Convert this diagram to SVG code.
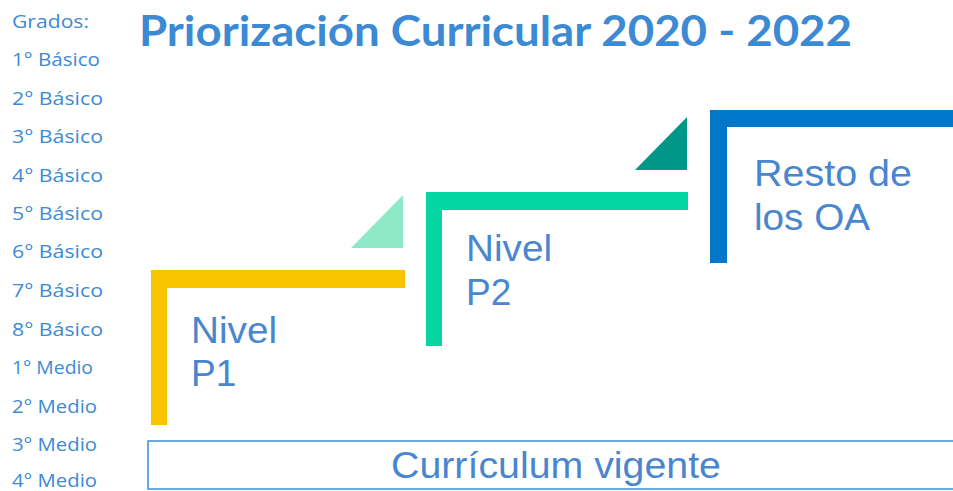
<svg xmlns="http://www.w3.org/2000/svg" width="953" height="491" viewBox="0 0 953 491">
<style>
.g{font-family:"Open Sans",Lato,sans-serif;font-size:17.5px;fill:#3d8ad5}
.lbl{font-family:"Liberation Sans",Arial,sans-serif;font-size:37px;fill:#4a86d0}
.title{font-family:Lato,"Open Sans",sans-serif;font-weight:bold;font-size:42px;fill:#3b8ad3}
</style>
<rect width="953" height="491" fill="#ffffff"/>
<text class="title" x="139" y="46" textLength="713" lengthAdjust="spacingAndGlyphs">Priorización Curricular 2020 - 2022</text>
<g id="grados">
<text class="g" x="12" y="28" textLength="77" lengthAdjust="spacingAndGlyphs">Grados:</text>
<text class="g" x="12" y="66" textLength="88" lengthAdjust="spacingAndGlyphs">1° Básico</text>
<text class="g" x="12" y="105" textLength="91" lengthAdjust="spacingAndGlyphs">2° Básico</text>
<text class="g" x="12" y="143" textLength="91" lengthAdjust="spacingAndGlyphs">3° Básico</text>
<text class="g" x="12" y="182" textLength="91" lengthAdjust="spacingAndGlyphs">4° Básico</text>
<text class="g" x="12" y="220" textLength="91" lengthAdjust="spacingAndGlyphs">5° Básico</text>
<text class="g" x="12" y="258" textLength="91" lengthAdjust="spacingAndGlyphs">6° Básico</text>
<text class="g" x="12" y="297" textLength="91" lengthAdjust="spacingAndGlyphs">7° Básico</text>
<text class="g" x="12" y="336" textLength="91" lengthAdjust="spacingAndGlyphs">8° Básico</text>
<text class="g" x="12" y="374" textLength="81" lengthAdjust="spacingAndGlyphs">1° Medio</text>
<text class="g" x="12" y="413" textLength="85" lengthAdjust="spacingAndGlyphs">2° Medio</text>
<text class="g" x="12" y="451" textLength="85" lengthAdjust="spacingAndGlyphs">3° Medio</text>
<text class="g" x="12" y="487" textLength="85" lengthAdjust="spacingAndGlyphs">4° Medio</text>
</g>
<g id="p1">
<polygon points="151,270 405,270 405,288 167,288 167,425 151,425" fill="#f8c400"/>
<polygon points="351,248 403,248 403,195" fill="#8de9c8"/>
<text class="lbl" x="191" y="343" textLength="86" lengthAdjust="spacingAndGlyphs">Nivel</text>
<text class="lbl" x="191" y="386">P1</text>
</g>
<g id="p2">
<polygon points="426,192 688,192 688,210 442,210 442,346 426,346" fill="#05d5a0"/>
<polygon points="635,170 687,170 687,117" fill="#009688"/>
<text class="lbl" x="466" y="261" textLength="86" lengthAdjust="spacingAndGlyphs">Nivel</text>
<text class="lbl" x="466" y="305">P2</text>
</g>
<g id="resto">
<polygon points="710,110 953,110 953,127 727,127 727,263 710,263" fill="#0077c8"/>
<text class="lbl" x="754" y="186" textLength="158" lengthAdjust="spacingAndGlyphs">Resto de</text>
<text class="lbl" x="754" y="230" textLength="116" lengthAdjust="spacingAndGlyphs">los OA</text>
</g>
<g id="curriculum">
<rect x="148" y="441" width="812" height="48" fill="none" stroke="#3a8fd8" stroke-width="1.5"/>
<text class="lbl" x="556" y="478" text-anchor="middle" textLength="330" lengthAdjust="spacingAndGlyphs">Currículum vigente</text>
</g>
<g id="connectors"></g>
</svg>
